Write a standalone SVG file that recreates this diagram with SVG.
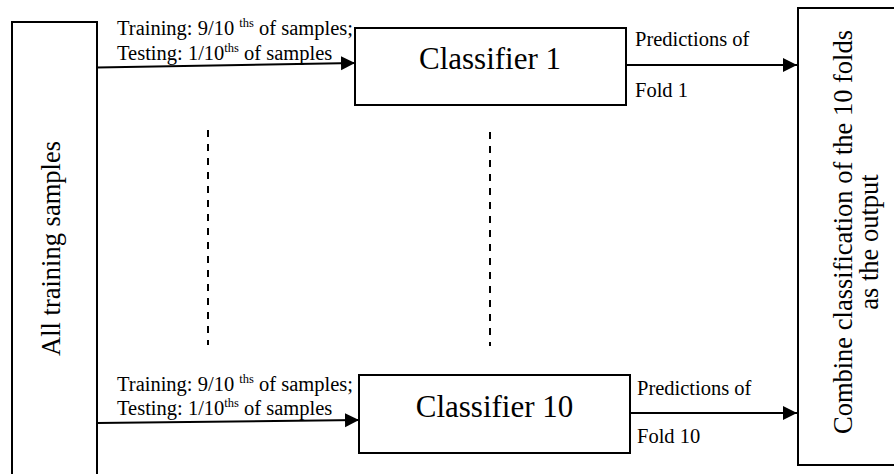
<svg xmlns="http://www.w3.org/2000/svg" width="894" height="474" viewBox="0 0 894 474">
  <style>
    .box { fill: none; stroke: #000; stroke-width: 2; }
    .txt { font-family: 'Liberation Serif', Tinos, 'Times New Roman', serif; fill: #000; }
    .lbl { font-size: 20.5px; }
    .sup { font-size: 12.5px; }
    .big { font-size: 31px; }
    .side { font-size: 26.5px; }
    .link { fill: none; stroke: #000; stroke-width: 2; }
    .dash { fill: none; stroke: #000; stroke-width: 2; stroke-dasharray: 7 7; }
  </style>
  <defs>
    <marker id="arrow" markerUnits="userSpaceOnUse" markerWidth="15" markerHeight="15" refX="14" refY="7" orient="auto">
      <path d="M0,0 L14,7 L0,14 Z" fill="#000"/>
    </marker>
  </defs>
  <rect width="894" height="474" fill="#fff"/>

  <!-- source: all training samples (box runs off the bottom edge) -->
  <g id="samples">
    <path class="box" d="M12,480 V22 H97 V480"/>
    <text class="txt side" text-anchor="middle" transform="translate(59.5,248.5) rotate(-90)">All training samples</text>
  </g>

  <!-- fold 1 classifier -->
  <g id="classifier1">
    <rect class="box" x="355" y="28" width="271" height="77"/>
    <text class="txt big" x="490" y="69" text-anchor="middle">Classifier 1</text>
  </g>

  <!-- fold 10 classifier -->
  <g id="classifier10">
    <rect class="box" x="359" y="375" width="271" height="78"/>
    <text class="txt big" x="494.5" y="417" text-anchor="middle">Classifier 10</text>
  </g>

  <!-- combiner (box runs off the right edge) -->
  <g id="combine">
    <path class="box" d="M900,8 H798 V465 H900"/>
    <text class="txt side" text-anchor="middle" transform="translate(851.5,232) rotate(-90)">Combine classification of the 10 folds</text>
    <text class="txt side" text-anchor="middle" transform="translate(878,242) rotate(-90)">as the output</text>
  </g>

  <g id="connectors">
    <path class="link" d="M97,67.5 L355,63" marker-end="url(#arrow)"/>
    <path class="link" d="M97,423 L359,420" marker-end="url(#arrow)"/>
    <path class="link" d="M626,65 L797,65" marker-end="url(#arrow)"/>
    <path class="link" d="M630,413 L797,413" marker-end="url(#arrow)"/>
    <path class="dash" d="M208,130 V345"/>
    <path class="dash" d="M490,132 V346"/>
  </g>

  <!-- connector labels -->
  <g id="labels" class="txt lbl">
    <text x="117" y="35">Training: 9/10 <tspan class="sup" dy="-8">ths</tspan><tspan dy="8"> of samples;</tspan></text>
    <text x="117" y="60">Testing: 1/10<tspan class="sup" dy="-8">ths</tspan><tspan dy="8"> of samples</tspan></text>
    <text x="117" y="391">Training: 9/10 <tspan class="sup" dy="-8">ths</tspan><tspan dy="8"> of samples;</tspan></text>
    <text x="117" y="415">Testing: 1/10<tspan class="sup" dy="-8">ths</tspan><tspan dy="8"> of samples</tspan></text>
    <text x="635" y="46">Predictions of</text>
    <text x="635" y="97">Fold 1</text>
    <text x="637" y="395">Predictions of</text>
    <text x="637" y="443">Fold 10</text>
  </g>
</svg>
